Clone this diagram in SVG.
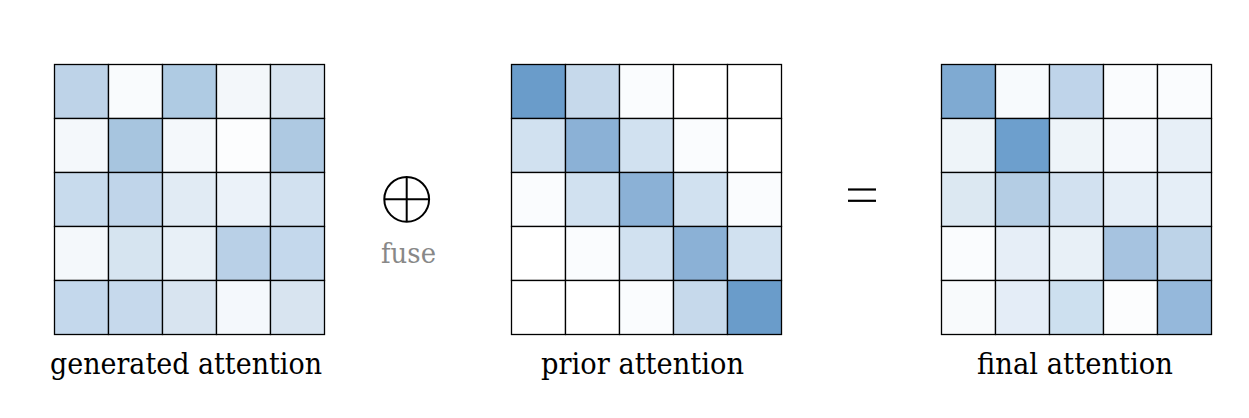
<svg xmlns="http://www.w3.org/2000/svg" width="1249" height="418" viewBox="0 0 1249 418">
<style>
.c{stroke:#000;stroke-width:1.3}
.lbl{font-family:"DejaVu Serif","Liberation Serif",serif;font-size:30px;fill:#000}
</style>
<rect width="1249" height="418" fill="#fff"/>
<g id="generated" transform="translate(54.5,64.5)">
<rect class="c" x="0" y="0" width="54" height="54" fill="#bed3e8"/>
<rect class="c" x="54" y="0" width="54" height="54" fill="#f9fbfd"/>
<rect class="c" x="108" y="0" width="54" height="54" fill="#afcbe3"/>
<rect class="c" x="162" y="0" width="54" height="54" fill="#f3f7fa"/>
<rect class="c" x="216" y="0" width="54" height="54" fill="#d8e4f0"/>
<rect class="c" x="0" y="54" width="54" height="54" fill="#f4f8fb"/>
<rect class="c" x="54" y="54" width="54" height="54" fill="#a7c5df"/>
<rect class="c" x="108" y="54" width="54" height="54" fill="#f4f8fb"/>
<rect class="c" x="162" y="54" width="54" height="54" fill="#fcfdfe"/>
<rect class="c" x="216" y="54" width="54" height="54" fill="#aec9e2"/>
<rect class="c" x="0" y="108" width="54" height="54" fill="#c8dbed"/>
<rect class="c" x="54" y="108" width="54" height="54" fill="#c0d5ea"/>
<rect class="c" x="108" y="108" width="54" height="54" fill="#e1ebf4"/>
<rect class="c" x="162" y="108" width="54" height="54" fill="#ebf2f9"/>
<rect class="c" x="216" y="108" width="54" height="54" fill="#d2e1f0"/>
<rect class="c" x="0" y="162" width="54" height="54" fill="#f4f8fb"/>
<rect class="c" x="54" y="162" width="54" height="54" fill="#d6e4f0"/>
<rect class="c" x="108" y="162" width="54" height="54" fill="#e8f0f7"/>
<rect class="c" x="162" y="162" width="54" height="54" fill="#b9d0e7"/>
<rect class="c" x="216" y="162" width="54" height="54" fill="#c4d8ec"/>
<rect class="c" x="0" y="216" width="54" height="54" fill="#c4d8ec"/>
<rect class="c" x="54" y="216" width="54" height="54" fill="#c6d9ec"/>
<rect class="c" x="108" y="216" width="54" height="54" fill="#d8e4f0"/>
<rect class="c" x="162" y="216" width="54" height="54" fill="#f4f8fc"/>
<rect class="c" x="216" y="216" width="54" height="54" fill="#d8e4f0"/>
</g>
<g id="prior" transform="translate(511.5,64.5)">
<rect class="c" x="0" y="0" width="54" height="54" fill="#6a9cca"/>
<rect class="c" x="54" y="0" width="54" height="54" fill="#c6d9eb"/>
<rect class="c" x="108" y="0" width="54" height="54" fill="#fafcfe"/>
<rect class="c" x="162" y="0" width="54" height="54" fill="#ffffff"/>
<rect class="c" x="216" y="0" width="54" height="54" fill="#ffffff"/>
<rect class="c" x="0" y="54" width="54" height="54" fill="#d1e1f0"/>
<rect class="c" x="54" y="54" width="54" height="54" fill="#8bb1d6"/>
<rect class="c" x="108" y="54" width="54" height="54" fill="#d1e1f0"/>
<rect class="c" x="162" y="54" width="54" height="54" fill="#fafcfe"/>
<rect class="c" x="216" y="54" width="54" height="54" fill="#ffffff"/>
<rect class="c" x="0" y="108" width="54" height="54" fill="#fafcfe"/>
<rect class="c" x="54" y="108" width="54" height="54" fill="#d1e1f0"/>
<rect class="c" x="108" y="108" width="54" height="54" fill="#8bb1d6"/>
<rect class="c" x="162" y="108" width="54" height="54" fill="#d1e1f0"/>
<rect class="c" x="216" y="108" width="54" height="54" fill="#fafcfe"/>
<rect class="c" x="0" y="162" width="54" height="54" fill="#ffffff"/>
<rect class="c" x="54" y="162" width="54" height="54" fill="#fafcfe"/>
<rect class="c" x="108" y="162" width="54" height="54" fill="#d1e1f0"/>
<rect class="c" x="162" y="162" width="54" height="54" fill="#8bb1d6"/>
<rect class="c" x="216" y="162" width="54" height="54" fill="#d1e1f0"/>
<rect class="c" x="0" y="216" width="54" height="54" fill="#ffffff"/>
<rect class="c" x="54" y="216" width="54" height="54" fill="#ffffff"/>
<rect class="c" x="108" y="216" width="54" height="54" fill="#fafcfe"/>
<rect class="c" x="162" y="216" width="54" height="54" fill="#c6d9eb"/>
<rect class="c" x="216" y="216" width="54" height="54" fill="#6a9cca"/>
</g>
<g id="final" transform="translate(941.5,64.5)">
<rect class="c" x="0" y="0" width="54" height="54" fill="#7faad2"/>
<rect class="c" x="54" y="0" width="54" height="54" fill="#f7fafd"/>
<rect class="c" x="108" y="0" width="54" height="54" fill="#bfd4ea"/>
<rect class="c" x="162" y="0" width="54" height="54" fill="#fafcfe"/>
<rect class="c" x="216" y="0" width="54" height="54" fill="#fafcfe"/>
<rect class="c" x="0" y="54" width="54" height="54" fill="#eef4f9"/>
<rect class="c" x="54" y="54" width="54" height="54" fill="#6d9fcd"/>
<rect class="c" x="108" y="54" width="54" height="54" fill="#eef4f9"/>
<rect class="c" x="162" y="54" width="54" height="54" fill="#f4f8fc"/>
<rect class="c" x="216" y="54" width="54" height="54" fill="#e7eff7"/>
<rect class="c" x="0" y="108" width="54" height="54" fill="#dce8f2"/>
<rect class="c" x="54" y="108" width="54" height="54" fill="#b4cde4"/>
<rect class="c" x="108" y="108" width="54" height="54" fill="#d2e1f0"/>
<rect class="c" x="162" y="108" width="54" height="54" fill="#e5eef7"/>
<rect class="c" x="216" y="108" width="54" height="54" fill="#e5eef7"/>
<rect class="c" x="0" y="162" width="54" height="54" fill="#fafcfe"/>
<rect class="c" x="54" y="162" width="54" height="54" fill="#e6eef7"/>
<rect class="c" x="108" y="162" width="54" height="54" fill="#e8f0f7"/>
<rect class="c" x="162" y="162" width="54" height="54" fill="#a6c3e0"/>
<rect class="c" x="216" y="162" width="54" height="54" fill="#bdd3e8"/>
<rect class="c" x="0" y="216" width="54" height="54" fill="#f8fafc"/>
<rect class="c" x="54" y="216" width="54" height="54" fill="#e4edf7"/>
<rect class="c" x="108" y="216" width="54" height="54" fill="#cde0ef"/>
<rect class="c" x="162" y="216" width="54" height="54" fill="#fcfdfe"/>
<rect class="c" x="216" y="216" width="54" height="54" fill="#95b8db"/>
</g>
<g id="fuse">
<circle cx="406.7" cy="199.3" r="22.4" fill="none" stroke="#000" stroke-width="2"/>
<line x1="384.3" y1="199.3" x2="429.1" y2="199.3" stroke="#000" stroke-width="2"/>
<line x1="406.7" y1="176.9" x2="406.7" y2="221.7" stroke="#000" stroke-width="2"/>
<text x="381" y="263" font-family="'DejaVu Serif', 'Liberation Serif', serif" font-size="27" fill="#888" textLength="55" lengthAdjust="spacingAndGlyphs">fuse</text>
</g>
<g id="equals">
<line x1="848" y1="189.5" x2="876" y2="189.5" stroke="#000" stroke-width="2.2"/>
<line x1="848" y1="200.8" x2="876" y2="200.8" stroke="#000" stroke-width="2.2"/>
</g>
<g id="labels">
<text class="lbl" x="50" y="374" textLength="272" lengthAdjust="spacingAndGlyphs">generated  attention</text>
<text class="lbl" x="541" y="374" textLength="203" lengthAdjust="spacingAndGlyphs">prior attention</text>
<text class="lbl" x="977" y="374" textLength="196" lengthAdjust="spacingAndGlyphs">final attention</text>
</g>
<g id="connectors"></g>
</svg>
